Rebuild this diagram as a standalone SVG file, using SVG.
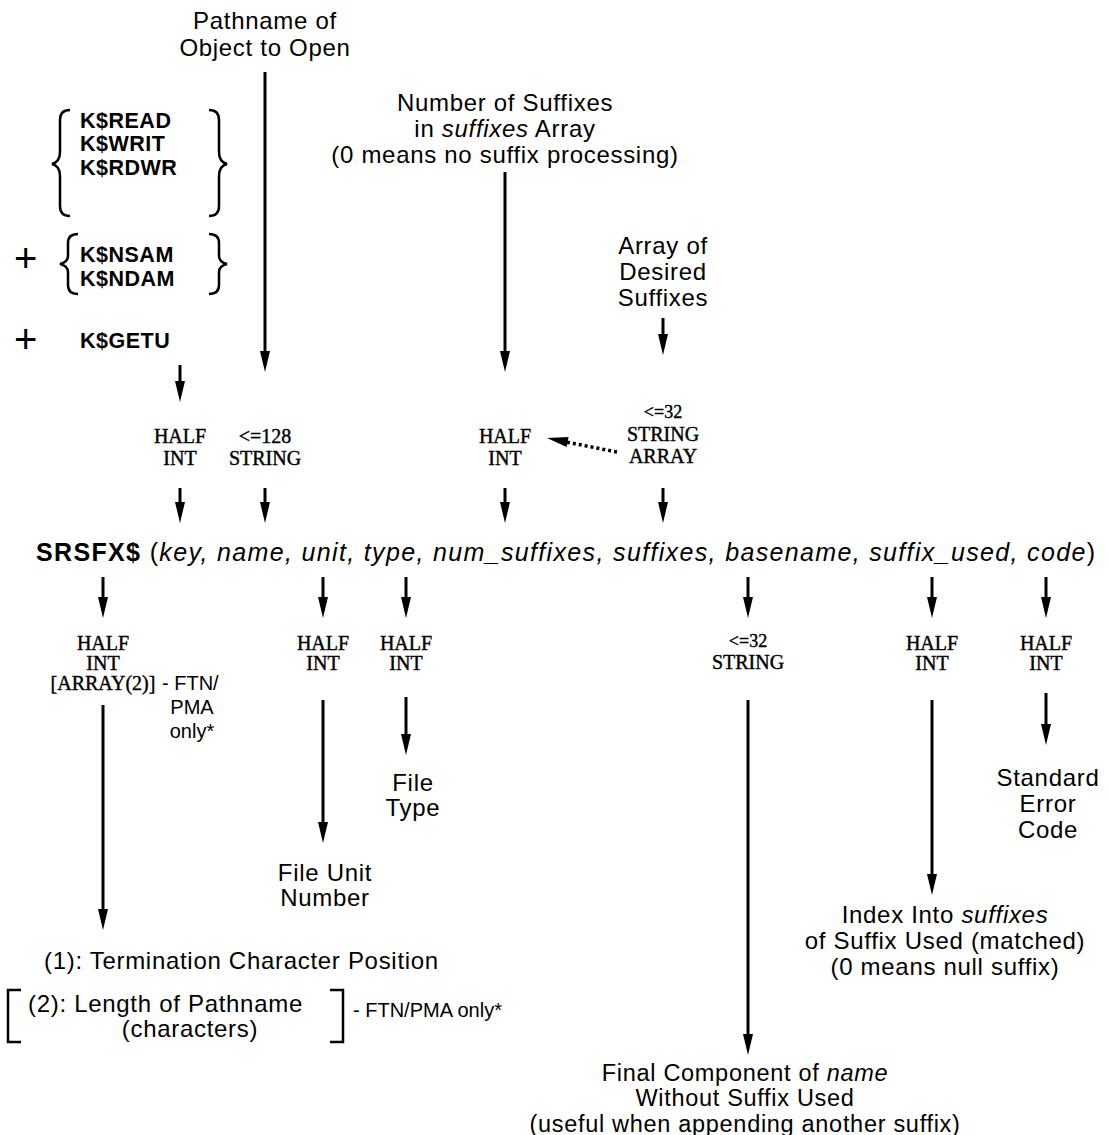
<svg xmlns="http://www.w3.org/2000/svg" xmlns:xlink="http://www.w3.org/1999/xlink" width="1109" height="1135" viewBox="0 0 1109 1135">
  <style>
    .sans { font-family: "Liberation Sans", Arial, sans-serif; font-size: 24px; letter-spacing: 0.7px; fill: #000; }
    .key { font-family: "Liberation Sans", Arial, sans-serif; font-size: 21.5px; letter-spacing: 0.5px; font-weight: bold; fill: #000; }
    .type { font-family: "Liberation Serif", "Times New Roman", serif; font-size: 20px; fill: #000; stroke: #000; stroke-width: 0.4; }
    .small { font-family: "Liberation Sans", Arial, sans-serif; font-size: 20px; fill: #000; }
    .plus { font-family: "Liberation Sans", Arial, sans-serif; font-size: 40px; fill: #000; }
    .c { text-anchor: middle; }
    .line { stroke: #000; stroke-width: 3; fill: none; }
    .brace { stroke: #000; stroke-width: 2.5; fill: none; }
    .dot { stroke: #000; stroke-width: 3.5; stroke-dasharray: 3 3; fill: none; }
  </style>
  <defs>
    <!-- downward arrowhead, tip at origin -->
    <path id="ah" d="M-5,-21 L5,-21 L0,0 Z" fill="#000"/>
  </defs>

  <rect width="1109" height="1135" fill="#fff"/>

  <!-- inputs -->
  <g id="pathname-label">
    <text class="sans c" x="265" y="29">Pathname of</text>
    <text class="sans c" x="265" y="56">Object to Open</text>
  </g>

  <g id="key-options">
    <path class="brace" d="M70,110 Q60,110 60,120 L60,152 Q60,162 52,164 Q60,166 60,176 L60,206 Q60,216 70,216"/>
    <text class="key" x="80" y="128">K$READ</text>
    <text class="key" x="80" y="151">K$WRIT</text>
    <text class="key" x="80" y="175">K$RDWR</text>
    <path class="brace" d="M209,110 Q219,110 219,120 L219,152 Q219,162 227,164 Q219,166 219,176 L219,206 Q219,216 209,216"/>

    <text class="plus" x="14" y="272">+</text>
    <path class="brace" d="M78,234 Q68,234 68,243 L68,256 Q68,262 60,264 Q68,266 68,272 L68,285 Q68,294 78,294"/>
    <text class="key" x="80" y="262">K$NSAM</text>
    <text class="key" x="80" y="286">K$NDAM</text>
    <path class="brace" d="M209,234 Q219,234 219,243 L219,256 Q219,262 227,264 Q219,266 219,272 L219,285 Q219,294 209,294"/>

    <text class="plus" x="14" y="353">+</text>
    <text class="key" x="80" y="348">K$GETU</text>
  </g>

  <g id="num-suffixes-label">
    <text class="sans c" x="505" y="111">Number of Suffixes</text>
    <text class="sans c" x="505" y="137">in <tspan font-style="italic">suffixes</tspan> Array</text>
    <text class="sans c" x="505" y="163">(0 means no suffix processing)</text>
  </g>

  <g id="suffixes-label">
    <text class="sans c" x="663" y="254">Array of</text>
    <text class="sans c" x="663" y="280">Desired</text>
    <text class="sans c" x="663" y="306">Suffixes</text>
  </g>

  <!-- input data types -->
  <g id="key-type">
    <text class="type c" x="180" y="443">HALF</text>
    <text class="type c" x="180" y="465">INT</text>
  </g>
  <g id="name-type">
    <text class="type c" x="265" y="443">&lt;=128</text>
    <text class="type c" x="265" y="465">STRING</text>
  </g>
  <g id="num-suffixes-type">
    <text class="type c" x="505" y="443">HALF</text>
    <text class="type c" x="505" y="465">INT</text>
  </g>
  <g id="suffixes-type">
    <text class="type c" x="663" y="418" style="font-size:18px">&lt;=32</text>
    <text class="type c" x="663" y="441">STRING</text>
    <text class="type c" x="663" y="463">ARRAY</text>
  </g>

  <!-- call -->
  <g id="call">
    <text x="36" y="561" textLength="1059" lengthAdjust="spacing" style="font-family:'Liberation Sans',Arial,sans-serif;font-size:25px"><tspan font-weight="bold">SRSFX$</tspan> (<tspan font-style="italic">key, name, unit, type, num_suffixes, suffixes, basename, suffix_used, code</tspan>)</text>
  </g>

  <!-- output data types -->
  <g id="key-out-type">
    <text class="type c" x="103" y="650">HALF</text>
    <text class="type c" x="103" y="670">INT</text>
    <text class="type c" x="103" y="690">[ARRAY(2)]</text>
    <text class="small" x="162" y="690">- FTN/</text>
    <text class="small c" x="192" y="714">PMA</text>
    <text class="small c" x="192" y="738">only*</text>
  </g>
  <g id="unit-type">
    <text class="type c" x="323" y="650">HALF</text>
    <text class="type c" x="323" y="670">INT</text>
  </g>
  <g id="type-type">
    <text class="type c" x="406" y="650">HALF</text>
    <text class="type c" x="406" y="670">INT</text>
  </g>
  <g id="basename-type">
    <text class="type c" x="748" y="647" style="font-size:18px">&lt;=32</text>
    <text class="type c" x="748" y="669">STRING</text>
  </g>
  <g id="suffix-used-type">
    <text class="type c" x="932" y="650">HALF</text>
    <text class="type c" x="932" y="670">INT</text>
  </g>
  <g id="code-type">
    <text class="type c" x="1046" y="650">HALF</text>
    <text class="type c" x="1046" y="670">INT</text>
  </g>

  <!-- outputs -->
  <g id="key-result">
    <text class="sans" x="44" y="969">(1): Termination Character Position</text>
    <path class="brace" d="M21,990 L8,990 L8,1042 L21,1042"/>
    <text class="sans" x="28" y="1012">(2): Length of Pathname</text>
    <text class="sans c" x="190" y="1037">(characters)</text>
    <path class="brace" d="M330,990 L343,990 L343,1042 L330,1042"/>
    <text class="small" x="353" y="1017">- FTN/PMA only*</text>
  </g>
  <g id="unit-result">
    <text class="sans c" x="325" y="881">File Unit</text>
    <text class="sans c" x="325" y="906">Number</text>
  </g>
  <g id="type-result">
    <text class="sans c" x="413" y="791">File</text>
    <text class="sans c" x="413" y="816">Type</text>
  </g>
  <g id="basename-result" style="font-size:23.5px">
    <text class="sans c" x="745" y="1081" style="font-size:23.5px">Final Component of <tspan font-style="italic">name</tspan></text>
    <text class="sans c" x="745" y="1106" style="font-size:23.5px">Without Suffix Used</text>
    <text class="sans c" x="745" y="1132" style="font-size:23.5px">(useful when appending another suffix)</text>
  </g>
  <g id="suffix-used-result">
    <text class="sans c" x="945" y="923">Index Into <tspan font-style="italic">suffixes</tspan></text>
    <text class="sans c" x="945" y="949">of Suffix Used (matched)</text>
    <text class="sans c" x="945" y="975">(0 means null suffix)</text>
  </g>
  <g id="code-result">
    <text class="sans c" x="1048" y="786">Standard</text>
    <text class="sans c" x="1048" y="812">Error</text>
    <text class="sans c" x="1048" y="838">Code</text>
  </g>

  <!-- connectors -->
  <g id="connectors">
    <line class="line" x1="265" y1="72" x2="265" y2="355"/><use xlink:href="#ah" x="265" y="372"/>
    <line class="line" x1="180" y1="365" x2="180" y2="385"/><use xlink:href="#ah" x="180" y="402"/>
    <line class="line" x1="505" y1="172" x2="505" y2="355"/><use xlink:href="#ah" x="505" y="372"/>
    <line class="line" x1="663" y1="318" x2="663" y2="338"/><use xlink:href="#ah" x="663" y="355"/>

    <line class="dot" x1="617" y1="452" x2="566" y2="442"/>
    <use xlink:href="#ah" transform="translate(547,438) rotate(101)"/>

    <line class="line" x1="180" y1="488" x2="180" y2="506"/><use xlink:href="#ah" x="180" y="523"/>
    <line class="line" x1="265" y1="488" x2="265" y2="506"/><use xlink:href="#ah" x="265" y="523"/>
    <line class="line" x1="505" y1="488" x2="505" y2="506"/><use xlink:href="#ah" x="505" y="523"/>
    <line class="line" x1="663" y1="488" x2="663" y2="506"/><use xlink:href="#ah" x="663" y="523"/>

    <line class="line" x1="103" y1="577" x2="103" y2="600"/><use xlink:href="#ah" x="103" y="618"/>
    <line class="line" x1="323" y1="577" x2="323" y2="600"/><use xlink:href="#ah" x="323" y="618"/>
    <line class="line" x1="406" y1="577" x2="406" y2="600"/><use xlink:href="#ah" x="406" y="618"/>
    <line class="line" x1="748" y1="577" x2="748" y2="600"/><use xlink:href="#ah" x="748" y="618"/>
    <line class="line" x1="932" y1="577" x2="932" y2="600"/><use xlink:href="#ah" x="932" y="618"/>
    <line class="line" x1="1046" y1="577" x2="1046" y2="600"/><use xlink:href="#ah" x="1046" y="618"/>

    <line class="line" x1="103" y1="705" x2="103" y2="913"/><use xlink:href="#ah" x="103" y="930"/>
    <line class="line" x1="323" y1="700" x2="323" y2="826"/><use xlink:href="#ah" x="323" y="843"/>
    <line class="line" x1="406" y1="697" x2="406" y2="738"/><use xlink:href="#ah" x="406" y="755"/>
    <line class="line" x1="748" y1="700" x2="748" y2="1038"/><use xlink:href="#ah" x="748" y="1055"/>
    <line class="line" x1="932" y1="700" x2="932" y2="878"/><use xlink:href="#ah" x="932" y="895"/>
    <line class="line" x1="1046" y1="693" x2="1046" y2="728"/><use xlink:href="#ah" x="1046" y="745"/>
  </g>
</svg>
